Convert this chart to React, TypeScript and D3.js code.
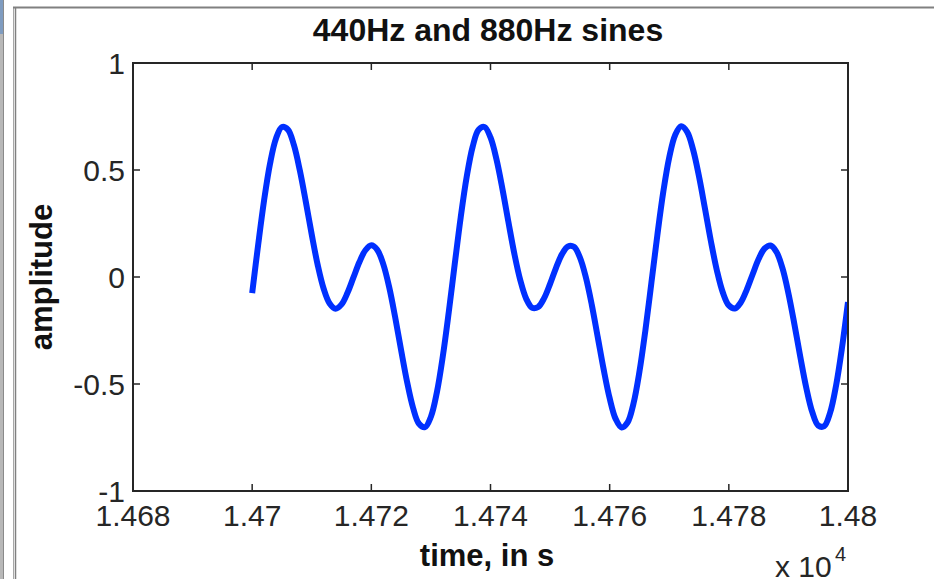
import React from "react";
import * as d3 from "d3";

// ---- data ----
const title = "440Hz and 880Hz sines";
const xLabel = "time, in s";
const yLabel = "amplitude";
const sampleStart = 14700; // first sample index on the time axis
const amplitude = [
  -0.075, 0.149, 0.358, 0.53, 0.647, 0.701, 0.689, 0.617, 0.498, 0.352,
  0.198, 0.056, -0.055, -0.124, -0.148, -0.128, -0.074, -0.002, 0.07, 0.125,
  0.148, 0.127, 0.06, -0.048, -0.188, -0.342, -0.49, -0.611, -0.686, -0.702,
  -0.653, -0.539, -0.37, -0.163, 0.061, 0.279, 0.467, 0.608, 0.688, 0.701,
  0.652, 0.55, 0.412, 0.258, 0.109, -0.015, -0.102, -0.144, -0.14, -0.099,
  -0.032, 0.043, 0.107, 0.143, 0.141, 0.092, -0.001, -0.13, -0.281, -0.433,
  -0.567, -0.663, -0.703, -0.68, -0.591, -0.442, -0.248, -0.028, 0.195, 0.398,
  0.559, 0.664, 0.704, 0.678, 0.595, 0.469, 0.319, 0.166, 0.03, -0.073,
  -0.133, -0.147, -0.119, -0.06, 0.013, 0.084, 0.133, 0.147, 0.117, 0.041,
  -0.076, -0.22, -0.374, -0.518, -0.631, -0.694, -0.697, -0.634, -0.507, -0.329,
  -0.117,
];
const xTicks = [14680, 14700, 14720, 14740, 14760, 14780, 14800];
const xTickLabels = ["1.468", "1.47", "1.472", "1.474", "1.476", "1.478", "1.48"];
const yTicks = [-1, -0.5, 0, 0.5, 1];
const yTickLabels = ["-1", "-0.5", "0", "0.5", "1"];
const xDomain = [14680, 14800];
const yDomain = [-1, 1];

const W = 934;
const H = 579;
const L = 133, R = 848, T = 63, B = 491;
const font = "'Liberation Sans', Arial, Helvetica, sans-serif";
const ink = "#262626";

export default function App() {
  const x = d3.scaleLinear().domain(xDomain).range([L, R]);
  const y = d3.scaleLinear().domain(yDomain).range([B, T]);
  const pts: [number, number][] = amplitude.map((v, i) => [sampleStart + i, v]);
  const line = d3
    .line<[number, number]>()
    .x((d) => x(d[0]))
    .y((d) => y(d[1]))
    .curve(d3.curveCatmullRom);
  const tick = 7;

  return (
    <div style={{ position: "absolute", left: 0, top: 0 }}>
      <svg width={W} height={H} style={{ display: "block", background: "#fff" }}>
        {/* window chrome */}
        <rect x={0} y={0} width={3} height={H} fill="#b8b8b8" />
        <rect x={0} y={0} width={3} height={34} fill="#7f9cc0" />
        <line x1={3.5} x2={3.5} y1={0} y2={H} stroke="#8a8a8a" strokeWidth={1} />
        <line x1={13.5} x2={13.5} y1={7} y2={H} stroke="#a8a8a8" strokeWidth={1} />
        <line x1={15.5} x2={15.5} y1={7} y2={H} stroke="#808080" strokeWidth={1.5} />
        <line x1={13} x2={W} y1={7.5} y2={7.5} stroke="#808080" strokeWidth={2} />

        <defs>
          <clipPath id="plotClip">
            <rect x={L} y={T} width={R - L} height={B - T} />
          </clipPath>
        </defs>

        {/* data line */}
        <path
          d={line(pts) || ""}
          fill="none"
          stroke="#0030ff"
          strokeWidth={6}
          strokeLinejoin="round"
          clipPath="url(#plotClip)"
        />

        {/* axes box */}
        <rect x={L} y={T} width={R - L} height={B - T} fill="none" stroke={ink} strokeWidth={2} />

        {/* x ticks */}
        {xTicks.map((t, i) => (
          <g key={"xt" + i}>
            <line x1={x(t)} x2={x(t)} y1={B} y2={B - tick} stroke={ink} strokeWidth={1.5} />
            <line x1={x(t)} x2={x(t)} y1={T} y2={T + tick} stroke={ink} strokeWidth={1.5} />
            <text
              x={x(t)}
              y={526}
              textAnchor="middle"
              fontFamily={font}
              fontSize={30}
              fill={ink}
            >
              {xTickLabels[i]}
            </text>
          </g>
        ))}

        {/* y ticks */}
        {yTicks.map((t, i) => (
          <g key={"yt" + i}>
            <line x1={L} x2={L + tick} y1={y(t)} y2={y(t)} stroke={ink} strokeWidth={1.5} />
            <line x1={R} x2={R - tick} y1={y(t)} y2={y(t)} stroke={ink} strokeWidth={1.5} />
            <text
              x={125}
              y={y(t) + 11}
              textAnchor="end"
              fontFamily={font}
              fontSize={30}
              fill={ink}
            >
              {yTickLabels[i]}
            </text>
          </g>
        ))}

        {/* title */}
        <text
          x={488}
          y={41}
          textAnchor="middle"
          fontFamily={font}
          fontWeight="bold"
          fontSize={32}
          fill="#111"
        >
          {title}
        </text>

        {/* x label */}
        <text
          x={487}
          y={566}
          textAnchor="middle"
          fontFamily={font}
          fontWeight="bold"
          fontSize={31}
          fill="#111"
        >
          {xLabel}
        </text>

        {/* y label */}
        <text
          transform={`translate(52, ${(T + B) / 2}) rotate(-90)`}
          textAnchor="middle"
          fontFamily={font}
          fontWeight="bold"
          fontSize={31}
          fill="#111"
        >
          {yLabel}
        </text>

        {/* exponent */}
        <text x={775} y={577} fontFamily={font} fontSize={30} fill={ink}>
          x 10
        </text>
        <text x={835} y={561} fontFamily={font} fontSize={20} fill={ink}>
          4
        </text>
      </svg>
    </div>
  );
}
